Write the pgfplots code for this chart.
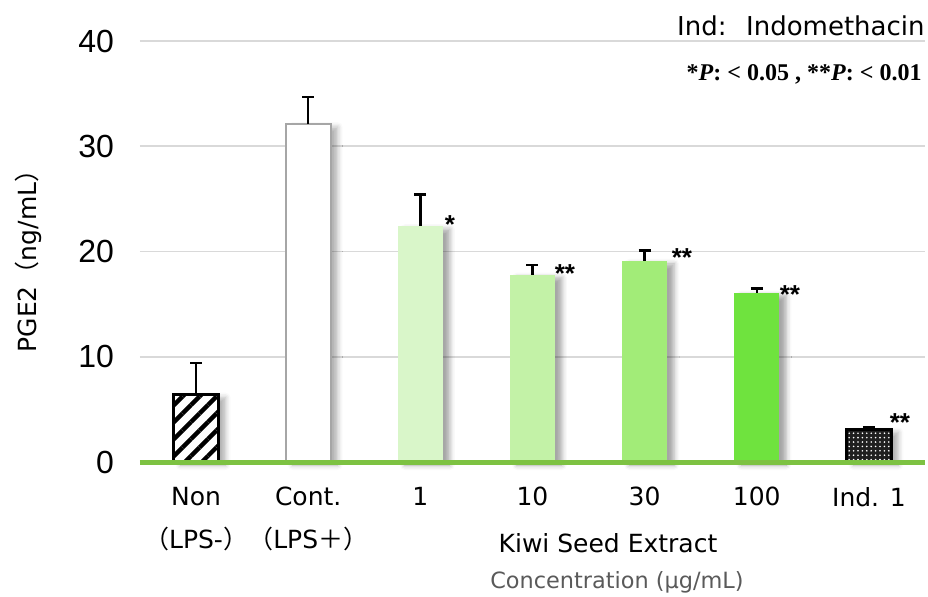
\documentclass[border=0pt]{standalone}
\usepackage{pgfplots}
\pgfplotsset{compat=1.18}
\usepackage{fontspec}
\setmainfont{DejaVu Sans}
\newfontfamily\cjk{Noto Sans CJK JP}
\newfontfamily\tnr{Liberation Serif}
\newfontfamily\arial{Liberation Sans}
\usetikzlibrary{patterns,patterns.meta,shadows.blur}
\definecolor{g1}{HTML}{D9F6C9}
\definecolor{g2}{HTML}{C3F2A7}
\definecolor{g3}{HTML}{A2EC78}
\definecolor{g4}{HTML}{6FE33E}
\definecolor{axisgreen}{HTML}{7DC242}
\definecolor{gridgray}{HTML}{D9D9D9}
\definecolor{contgray}{HTML}{A6A6A6}
\definecolor{labgray}{HTML}{5A5A5A}
\pgfplotstableread{
x y e
0 6.4 3.0
1 32.1 2.6
2 22.4 3.0
3 17.8 0.9
4 19.1 1.0
5 16.1 0.4
6 3.1 0.2
}\errdata
\tikzset{barshadow/.style={blur shadow={shadow xshift=3.5pt, shadow yshift=-1.5pt, shadow opacity=#1, shadow blur radius=2.5pt}}}
\begin{document}
\begin{tikzpicture}
\useasboundingbox (-70pt,-67pt) rectangle (394pt,231pt);
\begin{axis}[
  at={(0,0)}, anchor=south west,
  scale only axis, width=392.5pt, height=210.5pt,
  xmin=-0.5, xmax=6.5, ymin=0, ymax=40,
  ytick={0,10,20,30,40},
  ymajorgrids, grid style={gridgray, line width=0.8pt},
  axis line style={draw=none}, tick style={draw=none},
  xtick={0,1,2,3,4,5,6},
  xticklabels={{Non\\{\cjk （}LPS-{\cjk ）}},{Cont.\\{\cjk （}LPS{\cjk ＋）}},1,10,30,100,Ind. 1},
  xticklabel style={font=\fontsize{12.5}{21.5}\selectfont, align=center, anchor=north, yshift=-9pt},
  yticklabel style={font=\arial\fontsize{16}{16}\selectfont, xshift=-9.5pt},
  /pgf/number format/assume math mode=true,
  clip=false,
  bar width=22.5pt,
]
\addplot[ybar, bar shift=0pt, barshadow=30, draw=black, line width=1.5pt, preaction={fill=white},
  pattern={Lines[angle=45, distance=6pt, line width=2.2pt]}, pattern color=black]
  coordinates {(0,6.4)};
\addplot[ybar, bar shift=0pt, barshadow=30, draw=contgray, line width=1pt, fill=white]
  coordinates {(1,32.1)};
\addplot[ybar, bar shift=0pt, barshadow=35, draw=none, fill=g1]
  coordinates {(2,22.4)};
\addplot[ybar, bar shift=0pt, barshadow=35, draw=none, fill=g2]
  coordinates {(3,17.8)};
\addplot[ybar, bar shift=0pt, barshadow=35, draw=none, fill=g3]
  coordinates {(4,19.1)};
\addplot[ybar, bar shift=0pt, barshadow=35, draw=none, fill=g4]
  coordinates {(5,16.1)};
\addplot[ybar, bar shift=0pt, barshadow=30, draw=black, line width=1.5pt, preaction={fill=black!88},
  pattern={Dots[distance=2.2pt, radius=0.45pt]}, pattern color=white]
  coordinates {(6,3.1)};
\addplot[draw=none, mark=none, forget plot,
  error bars/.cd, y dir=plus, y explicit,
  error bar style={draw=black, line width=1.2pt, solid},
  error mark options={draw=black, rotate=90, mark size=3pt, line width=1.2pt}]
  table[x=x, y=y, y error=e] {\errdata};
\draw[axisgreen, line width=2.5pt] (rel axis cs:0,0) -- (rel axis cs:1,0);
\end{axis}
% labels (pixel positions converted: x=(X-140)/2, y=(462-Y)/2)
\node[rotate=90, font=\fontsize{12.5}{12.5}\selectfont, anchor=center] at (-56pt,103.5pt) {PGE2{\cjk （}ng/mL{\cjk ）}};
\node[font=\fontsize{12.5}{12.5}\selectfont, anchor=base] at (234pt,-45pt) {Kiwi Seed Extract};
\node[font=\fontsize{11.2}{11.2}\selectfont, text=labgray, anchor=base] at (238.5pt,-63pt) {Concentration (μg/mL)};
\node[font=\fontsize{13}{13}\selectfont, anchor=base east, inner sep=0pt] at (392.5pt,213.5pt) {Ind:\hspace{0.75em}Indomethacin};
\node[font=\tnr\bfseries\fontsize{12}{12}\selectfont, anchor=base east, inner sep=0pt] at (391pt,191pt) {*\textit{P}: < 0.05 , **\textit{P}: < 0.01};
\begin{scope}[every node/.style={font=\arial\bfseries\fontsize{13}{13}\selectfont, anchor=base, inner sep=0pt}]
\node at (155pt,114.5pt) {*};
\node at (212.5pt,90pt) {**};
\node at (271pt,98pt) {**};
\node at (325pt,79.5pt) {**};
\node at (380pt,15.5pt) {**};
\end{scope}
\end{tikzpicture}
\end{document}
